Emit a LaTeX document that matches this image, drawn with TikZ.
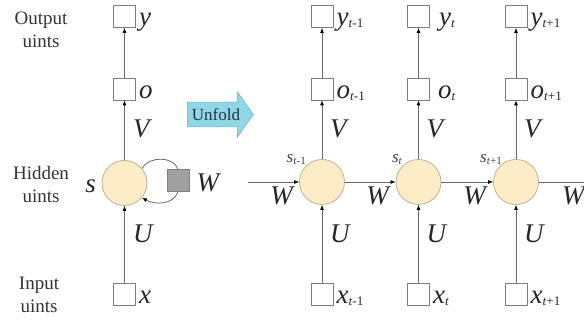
\documentclass[tikz,border=0pt]{standalone}
\usepackage{fontspec}
\setmainfont{Liberation Serif}
\usepackage{tikz}
\usetikzlibrary{arrows.meta,shapes.arrows}

\definecolor{hidfill}{RGB}{253,236,200}
\definecolor{hiddraw}{RGB}{190,178,145}
\definecolor{linegray}{RGB}{105,105,105}
\definecolor{boxgray}{RGB}{125,125,125}
\definecolor{wgray}{RGB}{160,160,160}
\definecolor{unfoldfill}{RGB}{145,214,230}
\definecolor{unfolddraw}{RGB}{95,180,205}
\definecolor{unfoldtext}{RGB}{35,54,60}

\newcommand{\tsub}[1]{\raisebox{-2pt}{\fontsize{13}{13}\selectfont\textit{t}#1}}
\newcommand{\ssub}[1]{\raisebox{-1.5pt}{\fontsize{11}{11}\selectfont\textit{t}#1}}

\begin{document}
\begin{tikzpicture}[x=1pt,y=-1pt,
  >={Latex[length=5pt,width=4pt,color=black]},
  conn/.style={linegray,line width=0.8pt},
  unit/.style={draw=boxgray,fill=white,line width=0.8pt,minimum size=22pt,inner sep=0pt},
  hid/.style={circle,draw=hiddraw,fill=hidfill,line width=0.8pt,minimum size=45pt,inner sep=0pt},
  var/.style={font=\fontsize{27}{30}\selectfont\itshape,inner sep=0pt,text=black!85},
  svar/.style={font=\fontsize{17}{19}\selectfont\itshape,inner sep=0pt,text=black!75},
  side/.style={font=\fontsize{19}{23}\selectfont,align=center,inner sep=0pt,text=black!80}]

\useasboundingbox (0,0) rectangle (584,320);

% Layer names
\node[side] (outlab) at (41,30) {Output\\uints};
\node[side] (hidlab) at (41,185) {Hidden\\uints};
\node[side] (inlab) at (39,295) {Input\\uints};

% Folded network
\node[unit] (y) at (124.5,16.5) {};
\node[unit] (o) at (124.5,89) {};
\node[hid] (s) at (124.5,183) {};
\node[unit] (x) at (124.5,294) {};
\node[unit,fill=wgray,draw=gray] (wbox) at (178,180.5) {};

\draw[conn,->] (x) -- (s);
\draw[conn,->] (s) -- (o);
\draw[conn,->] (o) -- (y);
\draw[conn] (s.40) to[out=60,in=110] (wbox.north);
\draw[conn,->] (wbox.south) to[out=-110,in=-30] (s.-40);

\node[var,anchor=base west] (ylab) at ([shift={(3pt,2pt)}]y.south east) {y};
\node[var,anchor=base west] (olab) at ([shift={(3pt,2pt)}]o.south east) {o};
\node[var,anchor=base west] (xlab) at ([shift={(3pt,2pt)}]x.south east) {x};
\node[var,anchor=base west] (wlab) at ([shift={(7pt,0pt)}]wbox.south east) {W};
\node[var,anchor=base east] (slab) at (96,193) {s};
\node[var,anchor=base west] (vlab) at (133,138) {V};
\node[var,anchor=base west] (ulab) at (133,243) {U};

% Unfold arrow
\node[single arrow,fill=unfoldfill,draw=unfolddraw,line width=0.5pt,
  single arrow head extend=10.5pt,single arrow tip angle=110,
  minimum height=66pt,inner xsep=2pt,inner ysep=6pt,anchor=tail,
  font=\fontsize{17}{17}\selectfont,text=unfoldtext] (unfold) at (187,114.5) {Unfold};

% Unfolded network, step t-1
\node[unit] (y1) at (322,16.5) {};
\node[unit] (o1) at (322,89) {};
\node[hid] (s1) at (322,182) {};
\node[unit] (x1) at (322,294) {};
\draw[conn,->] (x1) -- (s1);
\draw[conn,->] (s1) -- (o1);
\draw[conn,->] (o1) -- (y1);
\node[var,anchor=base west] (y1lab) at ([shift={(3pt,2pt)}]y1.south east) {y\tsub{\textup{-1}}};
\node[var,anchor=base west] (o1lab) at ([shift={(3pt,2pt)}]o1.south east) {o\tsub{\textup{-1}}};
\node[var,anchor=base west] (x1lab) at ([shift={(3pt,2pt)}]x1.south east) {x\tsub{\textup{-1}}};
\node[svar,anchor=base east] (s1lab) at (306,163) {s\ssub{\textup{-1}}};
\node[var,anchor=base west] (v1lab) at (330,138) {V};
\node[var,anchor=base west] (u1lab) at (330,243) {U};

% Unfolded network, step t
\node[unit] (y2) at (418.5,16.5) {};
\node[unit] (o2) at (418.5,89) {};
\node[hid] (s2) at (418.5,182) {};
\node[unit] (x2) at (418.5,294) {};
\draw[conn,->] (x2) -- (s2);
\draw[conn,->] (s2) -- (o2);
\draw[conn,->] (o2) -- (y2);
\node[var,anchor=base west] (y2lab) at ([shift={(9pt,2pt)}]y2.south east) {y\tsub{}};
\node[var,anchor=base west] (o2lab) at ([shift={(8pt,2pt)}]o2.south east) {o\tsub{}};
\node[var,anchor=base west] (x2lab) at ([shift={(3pt,2pt)}]x2.south east) {x\tsub{}};
\node[svar,anchor=base east] (s2lab) at (402,163) {s\ssub{}};
\node[var,anchor=base west] (v2lab) at (426.5,138) {V};
\node[var,anchor=base west] (u2lab) at (426.5,243) {U};

% Unfolded network, step t+1
\node[unit] (y3) at (516,16.5) {};
\node[unit] (o3) at (516,89) {};
\node[hid] (s3) at (516,182) {};
\node[unit] (x3) at (516,294) {};
\draw[conn,->] (x3) -- (s3);
\draw[conn,->] (s3) -- (o3);
\draw[conn,->] (o3) -- (y3);
\node[var,anchor=base west] (y3lab) at ([shift={(3pt,2pt)}]y3.south east) {y\tsub{\textup{+1}}};
\node[var,anchor=base west] (o3lab) at ([shift={(3pt,2pt)}]o3.south east) {o\tsub{\textup{+1}}};
\node[var,anchor=base west] (x3lab) at ([shift={(3pt,2pt)}]x3.south east) {x\tsub{\textup{+1}}};
\node[svar,anchor=base east] (s3lab) at (502,163) {s\ssub{\textup{+1}}};
\node[var,anchor=base west] (v3lab) at (524,138) {V};
\node[var,anchor=base west] (u3lab) at (524,243) {U};

% Recurrent weights W
\coordinate (win) at (248,182);
\coordinate (wout) at (584,182);
\draw[conn,->] (win) -- (s1);
\draw[conn,->] (s1) -- (s2);
\draw[conn,->] (s2) -- (s3);
\draw[conn] (s3) -- (wout);
\node[var,anchor=base east] (w1lab) at (293,205) {W};
\node[var,anchor=base east] (w2lab) at (389,205) {W};
\node[var,anchor=base east] (w3lab) at (486,205) {W};
\node[var,anchor=base west] (w4lab) at (562,205) {W};

\end{tikzpicture}
\end{document}
